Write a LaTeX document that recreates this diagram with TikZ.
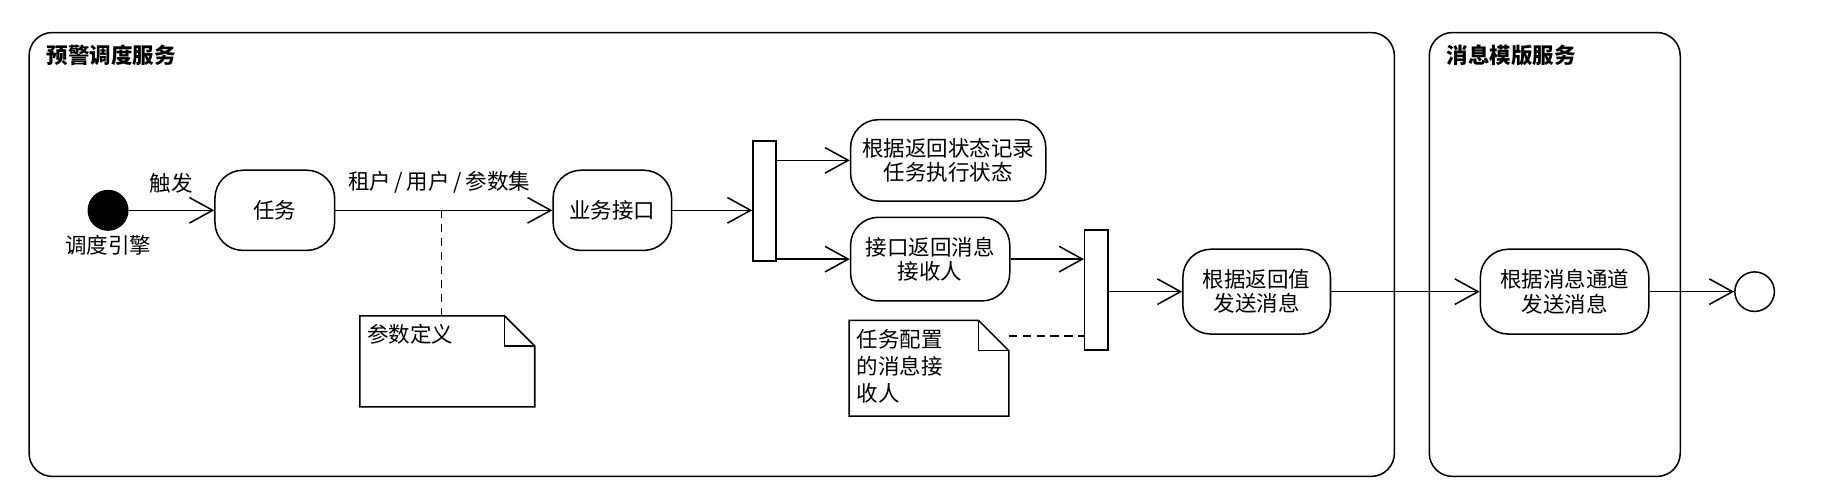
\documentclass[tikz,border=0pt]{standalone}
\usepackage{fontspec}
\setmainfont{Noto Sans CJK SC}
\usetikzlibrary{arrows.meta,calc}
\tikzset{
  base/.style={font=\fontsize{18.5}{21}\selectfont},
  lane/.style={draw, line width=1.3pt, rounded corners=20pt, inner sep=0pt},
  lanetitle/.style={font=\fontsize{18.5}{21}\selectfont\bfseries, anchor=west, inner sep=0pt},
  act/.style={draw, line width=1.3pt, rounded corners=24pt, align=center, inner sep=0pt, base},
  bar/.style={draw, line width=1.3pt, minimum width=20pt, minimum height=103pt, inner sep=0pt},
  flow/.style={line width=1.3pt, -{Straight Barb[length=20pt,width=22pt,line width=1.3pt]}},
  dashline/.style={line width=1.3pt, dash pattern=on 7pt off 5pt},
  notetext/.style={base, align=left, anchor=north west, inner sep=0pt},
  lbl/.style={base, inner sep=0pt}
}
\begin{document}
\begin{tikzpicture}[x=1pt,y=-1pt]
\useasboundingbox (0,0) rectangle (1568,427);
% lanes
\node[lane, minimum width=1175pt, minimum height=382pt] (lane1) at (612.5,219) {};
\node[lane, minimum width=216pt, minimum height=382pt] (lane2) at (1338,219) {};
\node[lanetitle] (t1) at (40,48) {预警调度服务};
\node[lanetitle] (t2) at (1245,48) {消息模版服务};
% initial
\node[circle, fill=black, draw, line width=1.3pt, minimum size=34pt, inner sep=0pt] (init) at (93,181) {};
\node[lbl] (initl) at (93,211) {调度引擎};
% activities
\node[act, minimum width=103pt, minimum height=69pt] (task) at (236.5,181) {任务};
\node[act, minimum width=102pt, minimum height=69pt] (biz) at (527,181) {业务接口};
\node[bar] (bar1) at (658,173) {};
\node[act, minimum width=168pt, minimum height=70pt] (recA) at (816,138) {根据返回状态记录\\任务执行状态};
\node[act, minimum width=137pt, minimum height=72pt] (recB) at (800.5,223) {接口返回消息\\接收人};
\node[bar] (bar2) at (943.5,249.5) {};
\node[act, minimum width=127pt, minimum height=73pt] (sendC) at (1081.5,251) {根据返回值\\发送消息};
\node[act, minimum width=145pt, minimum height=73pt] (sendD) at (1346.5,251) {根据消息通道\\发送消息};
\node[circle, draw, line width=1.3pt, minimum size=34pt, inner sep=0pt] (final) at (1510,251) {};
% notes
\node[minimum width=150pt, minimum height=78pt, inner sep=0pt] (note1) at (385,311) {};
\draw[line width=1.3pt] (note1.north west) -- ($(note1.north east)+(-26,0)$) -- ($(note1.north east)+(0,26)$) -- (note1.south east) -- (note1.south west) -- cycle;
\draw[line width=1.3pt] ($(note1.north east)+(-26,0)$) -- ($(note1.north east)+(-26,26)$) -- ($(note1.north east)+(0,26)$);
\node[notetext] (note1t) at (316,279) {参数定义};
\node[minimum width=137pt, minimum height=82pt, inner sep=0pt] (note2) at (799.5,317) {};
\draw[line width=1.3pt] (note2.north west) -- ($(note2.north east)+(-26,0)$) -- ($(note2.north east)+(0,26)$) -- (note2.south east) -- (note2.south west) -- cycle;
\draw[line width=1.3pt] ($(note2.north east)+(-26,0)$) -- ($(note2.north east)+(-26,26)$) -- ($(note2.north east)+(0,26)$);
\node[notetext, font=\fontsize{18.5}{23.5}\selectfont] (note2t) at (737,283) {任务配置\\的消息接\\收人};
% connectors
\draw[flow] (init) -- (task) node[lbl, midway, above=14pt] (trig) {触发};
\draw[flow] (task) -- (biz) node[lbl, midway, above=14pt, xshift=-4pt] (params) {租户\,/\,用户\,/\,参数集};
\coordinate (d1) at (380,181);
\draw[dashline] (d1) -- (d1 |- note1.north);
\draw[flow] (biz) -- (biz.east -| bar1.west);
\draw[flow] (bar1.east |- recA.west) -- (recA.west);
\draw[flow] (bar1.east |- recB.west) -- (recB.west);
\draw[flow] (recB.east) -- (recB.east -| bar2.west);
\coordinate (d2) at (868,289);
\draw[dashline] (d2) -- (d2 -| bar2.west);
\draw[flow] (bar2.east |- sendC.west) -- (sendC.west);
\draw[flow] (sendC) -- (sendD);
\draw[flow] (sendD) -- (final);
\end{tikzpicture}
\end{document}
